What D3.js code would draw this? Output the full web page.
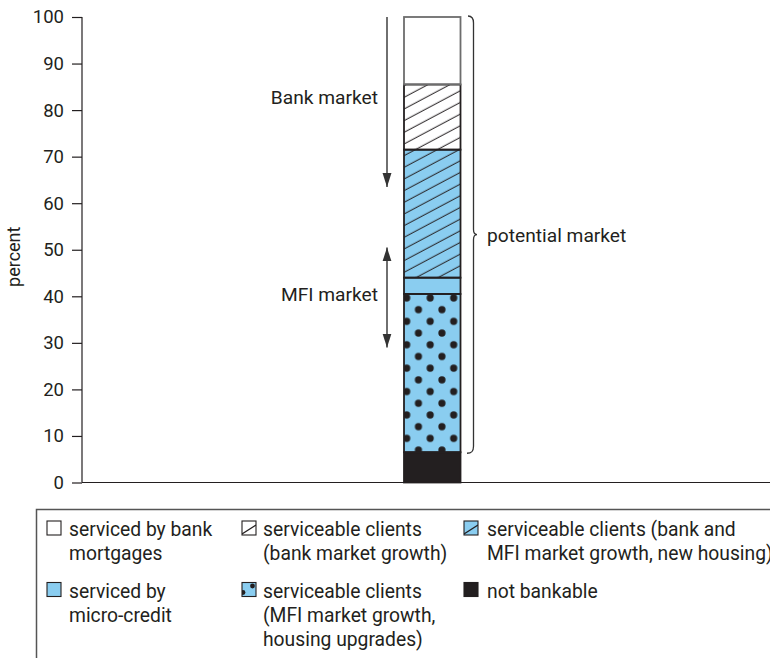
<!DOCTYPE html>
<html>
<head>
<meta charset="utf-8">
<script src="https://cdn.jsdelivr.net/npm/d3@7"></script>
<style>
  html, body { margin: 0; padding: 0; background: #fff; }
  svg { display: block; }
  text { font-family: Roboto, "Noto Sans", sans-serif; fill: #231f20; }
</style>
</head>
<body>
<svg id="chart" width="770" height="658"></svg>
<script>
// ---- data ----
const categories = ["market"];
const segmentKeys = ["notBankable", "mfiGrowth", "microCredit", "bankMfiGrowth", "bankGrowth", "bankMortgages"];
const segmentValues = [6.5, 34, 3.5, 27.5, 14, 14.5];
const yTicks = [0, 10, 20, 30, 40, 50, 60, 70, 80, 90, 100];
const bankArrow = [100, 63.5];
const mfiArrow = [50.5, 29];
const annotationLabels = ["Bank market", "MFI market", "potential market"];
const yAxisLabel = "percent";
const legendKeys = ["bankMortgages", "bankGrowth", "bankMfiGrowth", "microCredit", "mfiGrowth", "notBankable"];
const legendLabels = [
  ["serviced by bank", "mortgages"],
  ["serviceable clients", "(bank market growth)"],
  ["serviceable clients (bank and", "MFI market growth, new housing)"],
  ["serviced by", "micro-credit"],
  ["serviceable clients", "(MFI market growth,", "housing upgrades)"],
  ["not bankable"]
];

// ---- setup ----
const BLUE = "#8acdf0", DARK = "#231f20";
const svg = d3.select("#chart");
const y = d3.scaleLinear().domain([0, 100]).range([482.5, 17]);
const x = d3.scaleBand().domain(categories).range([404, 460.5]);
const axisX = 82, axisRight = 770;

const row = { market: "market" };
segmentKeys.forEach((k, i) => row[k] = segmentValues[i]);
const stacked = d3.stack().keys(segmentKeys)([row]);
const byKey = {};
stacked.forEach(s => byKey[s.key] = s[0]);

// ---- patterns ----
const defs = svg.append("defs");
const hatch = defs.append("pattern").attr("id", "hatch")
  .attr("patternUnits", "userSpaceOnUse").attr("width", 10).attr("height", 10.3)
  .attr("patternTransform", "translate(404,150) rotate(-28)");
hatch.append("line").attr("x1", -1).attr("x2", 11).attr("y1", 5).attr("y2", 5)
  .attr("stroke", DARK).attr("stroke-width", 1);

const dotsW = 23.5, dotsH = 23.4;
const dots = defs.append("pattern").attr("id", "dots")
  .attr("patternUnits", "userSpaceOnUse").attr("width", dotsW).attr("height", dotsH)
  .attr("x", x("market") + 2.7).attr("y", y(byKey.mfiGrowth[1]) + 4);
[[0, 0], [dotsW, 0], [0, dotsH], [dotsW, dotsH], [dotsW / 2, dotsH / 2]].forEach(p => {
  dots.append("circle").attr("cx", p[0]).attr("cy", p[1]).attr("r", 3.6).attr("fill", DARK);
});

const fills = {
  notBankable: [DARK], mfiGrowth: [BLUE, "url(#dots)"], microCredit: [BLUE],
  bankMfiGrowth: [BLUE, "url(#hatch)"], bankGrowth: ["#fff", "url(#hatch)"], bankMortgages: ["#fff"]
};

// ---- axes ----
const yAxis = d3.axisLeft(y).tickValues(yTicks).tickSize(10).tickPadding(8);
const gy = svg.append("g").attr("transform", `translate(${axisX},0)`).call(yAxis);
gy.select(".domain").remove();
gy.selectAll(".tick line").attr("stroke", DARK).attr("stroke-width", 1.2);
gy.selectAll(".tick text").attr("font-size", 18.5).attr("font-family", "Roboto").attr("fill", DARK);
svg.append("line").attr("x1", axisX).attr("x2", axisX).attr("y1", y(100)).attr("y2", y(0))
  .attr("stroke", DARK).attr("stroke-width", 1.2);
svg.append("line").attr("x1", axisX).attr("x2", axisRight).attr("y1", y(0)).attr("y2", y(0))
  .attr("stroke", DARK).attr("stroke-width", 1.2);

svg.append("text").attr("transform", `translate(19.5,${y(50) + 7}) rotate(-90)`)
  .attr("text-anchor", "middle").attr("font-size", 18).text(yAxisLabel);

// ---- bar ----
const bars = svg.append("g");
segmentKeys.forEach(k => {
  const d = byKey[k];
  fills[k].forEach(f => {
    bars.append("rect").attr("x", x("market")).attr("width", x.bandwidth())
      .attr("y", y(d[1])).attr("height", y(d[0]) - y(d[1])).attr("fill", f);
  });
});
segmentKeys.forEach(k => {
  const d = byKey[k];
  bars.append("rect").attr("x", x("market")).attr("width", x.bandwidth())
    .attr("y", y(d[1])).attr("height", y(d[0]) - y(d[1])).attr("fill", "none")
    .attr("stroke", k === "bankMortgages" ? "#6d6d6d" : DARK).attr("stroke-width", 1.8);
});

// ---- annotations ----
defs.append("marker").attr("id", "arrow").attr("viewBox", "0 -5 14 10")
  .attr("refX", 14).attr("refY", 0).attr("markerWidth", 14).attr("markerHeight", 10)
  .attr("markerUnits", "userSpaceOnUse").attr("orient", "auto-start-reverse")
  .append("path").attr("d", "M0,-4.5L14,0L0,4.5Z").attr("fill", "#333");

const arrowX = 387;
svg.append("line").attr("x1", arrowX).attr("x2", arrowX).attr("y1", y(bankArrow[0])).attr("y2", y(bankArrow[1]))
  .attr("stroke", "#333").attr("stroke-width", 1.4).attr("marker-end", "url(#arrow)");
svg.append("line").attr("x1", arrowX).attr("x2", arrowX).attr("y1", y(mfiArrow[0])).attr("y2", y(mfiArrow[1]))
  .attr("stroke", "#333").attr("stroke-width", 1.4)
  .attr("marker-start", "url(#arrow)").attr("marker-end", "url(#arrow)");

svg.append("text").attr("x", 378).attr("y", 104).attr("text-anchor", "end")
  .attr("font-size", 19.2).text(annotationLabels[0]);
svg.append("text").attr("x", 378).attr("y", 301).attr("text-anchor", "end")
  .attr("font-size", 19.2).text(annotationLabels[1]);

// brace for potential market
const braceTop = y(100), braceBot = y(byKey.mfiGrowth[0]);
const braceMid = (braceTop + braceBot) / 2;
const bx = 473.5;
const bracePath = `M468,${braceTop - 1} C472,${braceTop - 1} ${bx},${braceTop + 1} ${bx},${braceTop + 6}
  L${bx},${braceMid - 5} C${bx},${braceMid - 2} ${bx + 1},${braceMid} ${bx + 3.5},${braceMid}
  C${bx + 1},${braceMid} ${bx},${braceMid + 2} ${bx},${braceMid + 5}
  L${bx},${braceBot - 6} C${bx},${braceBot - 1} 472,${braceBot + 1} 467,${braceBot + 1}`;
svg.append("path").attr("d", bracePath).attr("fill", "none").attr("stroke", "#333").attr("stroke-width", 1.3);
svg.append("text").attr("x", 487).attr("y", braceMid + 7).attr("font-size", 19.2).text(annotationLabels[2]);

// ---- legend ----
svg.append("rect").attr("x", 36.5).attr("y", 509.5).attr("width", 800).attr("height", 300)
  .attr("fill", "none").attr("stroke", "#555").attr("stroke-width", 1.5);

const colSw = [47, 242, 464], colTx = [69, 263, 487];
const rowBase = [536, 597.5];
const lh = 24.3;
const sw = 14;
legendKeys.forEach((k, i) => {
  const c = i % 3, r = Math.floor(i / 3);
  const sx = colSw[c], sy = rowBase[r] - 15;
  const g = svg.append("g");
  const clipId = "clip" + i;
  defs.append("clipPath").attr("id", clipId).append("rect")
    .attr("x", sx).attr("y", sy).attr("width", sw).attr("height", sw);
  g.append("rect").attr("x", sx).attr("y", sy).attr("width", sw).attr("height", sw)
    .attr("fill", fills[k][0]);
  const inner = g.append("g").attr("clip-path", `url(#${clipId})`);
  if (k === "bankGrowth" || k === "bankMfiGrowth") {
    inner.append("line").attr("x1", sx).attr("y1", sy + sw - 1).attr("x2", sx + sw).attr("y2", sy + 4)
      .attr("stroke", DARK).attr("stroke-width", 1.2);
  }
  if (k === "mfiGrowth") {
    inner.append("circle").attr("cx", sx + sw - 3.5).attr("cy", sy + 3.5).attr("r", 2.4).attr("fill", DARK);
    inner.append("circle").attr("cx", sx + 1).attr("cy", sy + sw - 4).attr("r", 2.4).attr("fill", DARK);
  }
  g.append("rect").attr("x", sx).attr("y", sy).attr("width", sw).attr("height", sw)
    .attr("fill", "none").attr("stroke", DARK).attr("stroke-width", 1.1);
  const t = svg.append("text").attr("x", colTx[c]).attr("y", rowBase[r]).attr("font-size", 19.3);
  legendLabels[i].forEach((line, j) => {
    t.append("tspan").attr("x", colTx[c]).attr("y", rowBase[r] + j * lh).text(line);
  });
});
</script>
</body>
</html>
